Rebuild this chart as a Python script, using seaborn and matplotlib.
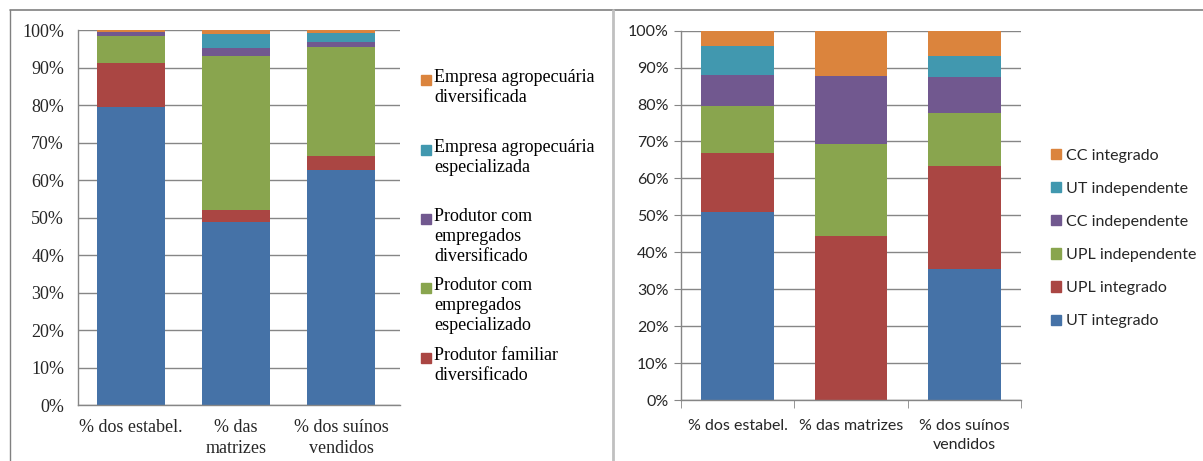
import numpy as np
import pandas as pd
import matplotlib
matplotlib.use("Agg")
import matplotlib.pyplot as plt
from matplotlib.lines import Line2D
from matplotlib.patches import Rectangle
import seaborn as sns

# Left chart data (% share, stacked bottom -> top)
cats_left = ["% dos estabel.", "% das\nmatrizes", "% dos suínos\nvendidos"]
left_series = ["Produtor familiar especializado", "Produtor familiar diversificado",
               "Produtor com empregados especializado", "Produtor com empregados diversificado",
               "Empresa agropecuária especializada", "Empresa agropecuária diversificada"]
fam_esp = [79.5, 48.9, 62.7]
fam_div = [11.7, 3.1, 3.7]
emp_esp = [7.3, 41.1, 29.1]
emp_div = [1.0, 2.1, 1.3]
agro_esp = [0.0, 3.8, 2.4]
agro_div = [0.5, 1.0, 0.8]
left_legend = ["Empresa agropecuária\ndiversificada", "Empresa agropecuária\nespecializada",
               "Produtor com\nempregados\ndiversificado", "Produtor com\nempregados\nespecializado",
               "Produtor familiar\ndiversificado"]

# Right chart data
cats_right = ["% dos estabel.", "% das matrizes", "% dos suínos\nvendidos"]
right_series = ["UT integrado", "UPL integrado", "UPL independente",
                "CC independente", "UT independente", "CC integrado"]
ut_int = [51.0, 0.0, 35.4]
upl_int = [15.8, 44.4, 28.0]
upl_ind = [12.8, 24.9, 14.2]
cc_ind = [8.3, 18.4, 9.8]
ut_ind = [8.0, 0.0, 5.8]
cc_int = [4.1, 12.3, 6.8]

colors = ["#4572A7", "#AA4643", "#89A54E", "#71588F", "#4198AF", "#DB843D"]

sns.set_style("white")

fig = plt.figure(figsize=(12.03, 4.61), dpi=100)
W, H = 1203, 461


def fx(px):
    return px / W


def fy(py):
    return 1 - py / H


def stacked(ax, cats, series_vals, width):
    df = pd.DataFrame({"cat": np.repeat(cats, len(series_vals)),
                       "s": list(range(len(series_vals))) * len(cats)})
    vals = np.array(series_vals).T  # cats x series
    df["v"] = vals.ravel()
    df["cum"] = df.groupby("cat", sort=False)["v"].cumsum()
    # draw tallest cumulative first so lower segments overlay
    for i in reversed(range(len(series_vals))):
        sub = df[df["s"] == i]
        sns.barplot(data=sub, x="cat", y="cum", order=cats, color=colors[i],
                    saturation=1, width=width, ax=ax, linewidth=0, zorder=2)


grid_c = "#868686"
serif = "Liberation Serif"
sans = "Lato"

# ---------- left chart ----------
axl = fig.add_axes([fx(78), fy(405), fx(400 - 78), (405 - 30) / H])
stacked(axl, cats_left, [fam_esp, fam_div, emp_esp, emp_div, agro_esp, agro_div], 0.65)
axl.set_ylim(0, 100)
axl.set_xlim(-0.505, 2.56)
axl.set_yticks(np.arange(0, 101, 10))
axl.set_yticklabels([f"{v}%" for v in range(0, 101, 10)], fontfamily=serif, fontsize=13)
axl.set_xticklabels(cats_left, fontfamily=serif, fontsize=13, linespacing=1.3)
axl.yaxis.grid(True, color=grid_c, linewidth=1)
axl.set_axisbelow(True)
axl.tick_params(axis="x", length=0, pad=10)
axl.tick_params(axis="y", length=0, pad=10)
for s in ["top", "right"]:
    axl.spines[s].set_visible(False)
for s in ["left", "bottom"]:
    axl.spines[s].set_color(grid_c)
    axl.spines[s].set_linewidth(1)
axl.set_xlabel("")
axl.set_ylabel("")

# left legend (Excel-like, evenly spaced entries)
leg_y = [80, 150, 219, 288, 358]
leg_c = [colors[5], colors[4], colors[3], colors[2], colors[1]]
for lab, yy, c in zip(left_legend, leg_y, leg_c):
    fig.add_artist(Rectangle((fx(421), fy(yy + 5)), fx(10), 10 / H, color=c,
                             transform=fig.transFigure))
    fig.text(fx(434), fy(yy - 11), lab, fontfamily=serif, fontsize=13,
             va="top", ha="left", linespacing=1.23, color="black")

# ---------- right chart ----------
axr = fig.add_axes([fx(681), fy(400), fx(1021 - 681), (400 - 30.7) / H])
stacked(axr, cats_right, [ut_int, upl_int, upl_ind, cc_ind, ut_ind, cc_int], 0.64)
axr.set_ylim(0, 100)
axr.set_xlim(-0.5, 2.5)
axr.set_yticks(np.arange(0, 101, 10))
axr.set_yticklabels([f"{v}%" for v in range(0, 101, 10)], fontfamily=sans, fontsize=11.5)
axr.set_xticklabels(cats_right, fontfamily=sans, fontsize=11.5, linespacing=1.45)
axr.set_xticks([-0.5, 0.5, 1.5, 2.5], minor=True)
axr.yaxis.grid(True, color=grid_c, linewidth=1)
axr.set_axisbelow(True)
axr.tick_params(axis="x", which="major", length=0, pad=14)
axr.tick_params(axis="x", which="minor", length=6, color=grid_c, direction="out", bottom=True)
axr.tick_params(axis="y", length=5, color=grid_c, direction="out", left=True, pad=4)
for s in ["top", "right"]:
    axr.spines[s].set_visible(False)
for s in ["left", "bottom"]:
    axr.spines[s].set_color(grid_c)
    axr.spines[s].set_linewidth(1)
axr.set_xlabel("")
axr.set_ylabel("")

handles = [Rectangle((0, 0), 1, 1, color=colors[i]) for i in reversed(range(6))]
fig.legend(handles, list(reversed(right_series)), loc="center left",
           bbox_to_anchor=(fx(1043), fy(238.5)), frameon=False, borderpad=0,
           handlelength=0.62, handleheight=0.62, handletextpad=0.3, labelspacing=1.2,
           prop={"family": sans, "size": 11.5})

# outer frame lines
fig.add_artist(Line2D([fx(10), 1], [fy(10), fy(10)], color="#808080", linewidth=1.2,
                      transform=fig.transFigure))
fig.add_artist(Line2D([fx(10), fx(10)], [0, fy(10)], color="#808080", linewidth=1,
                      transform=fig.transFigure))
fig.add_artist(Line2D([fx(613), fx(613)], [0, fy(10)], color="#c0c0c0", linewidth=2,
                      transform=fig.transFigure))

fig.savefig("out.png", dpi=100)
